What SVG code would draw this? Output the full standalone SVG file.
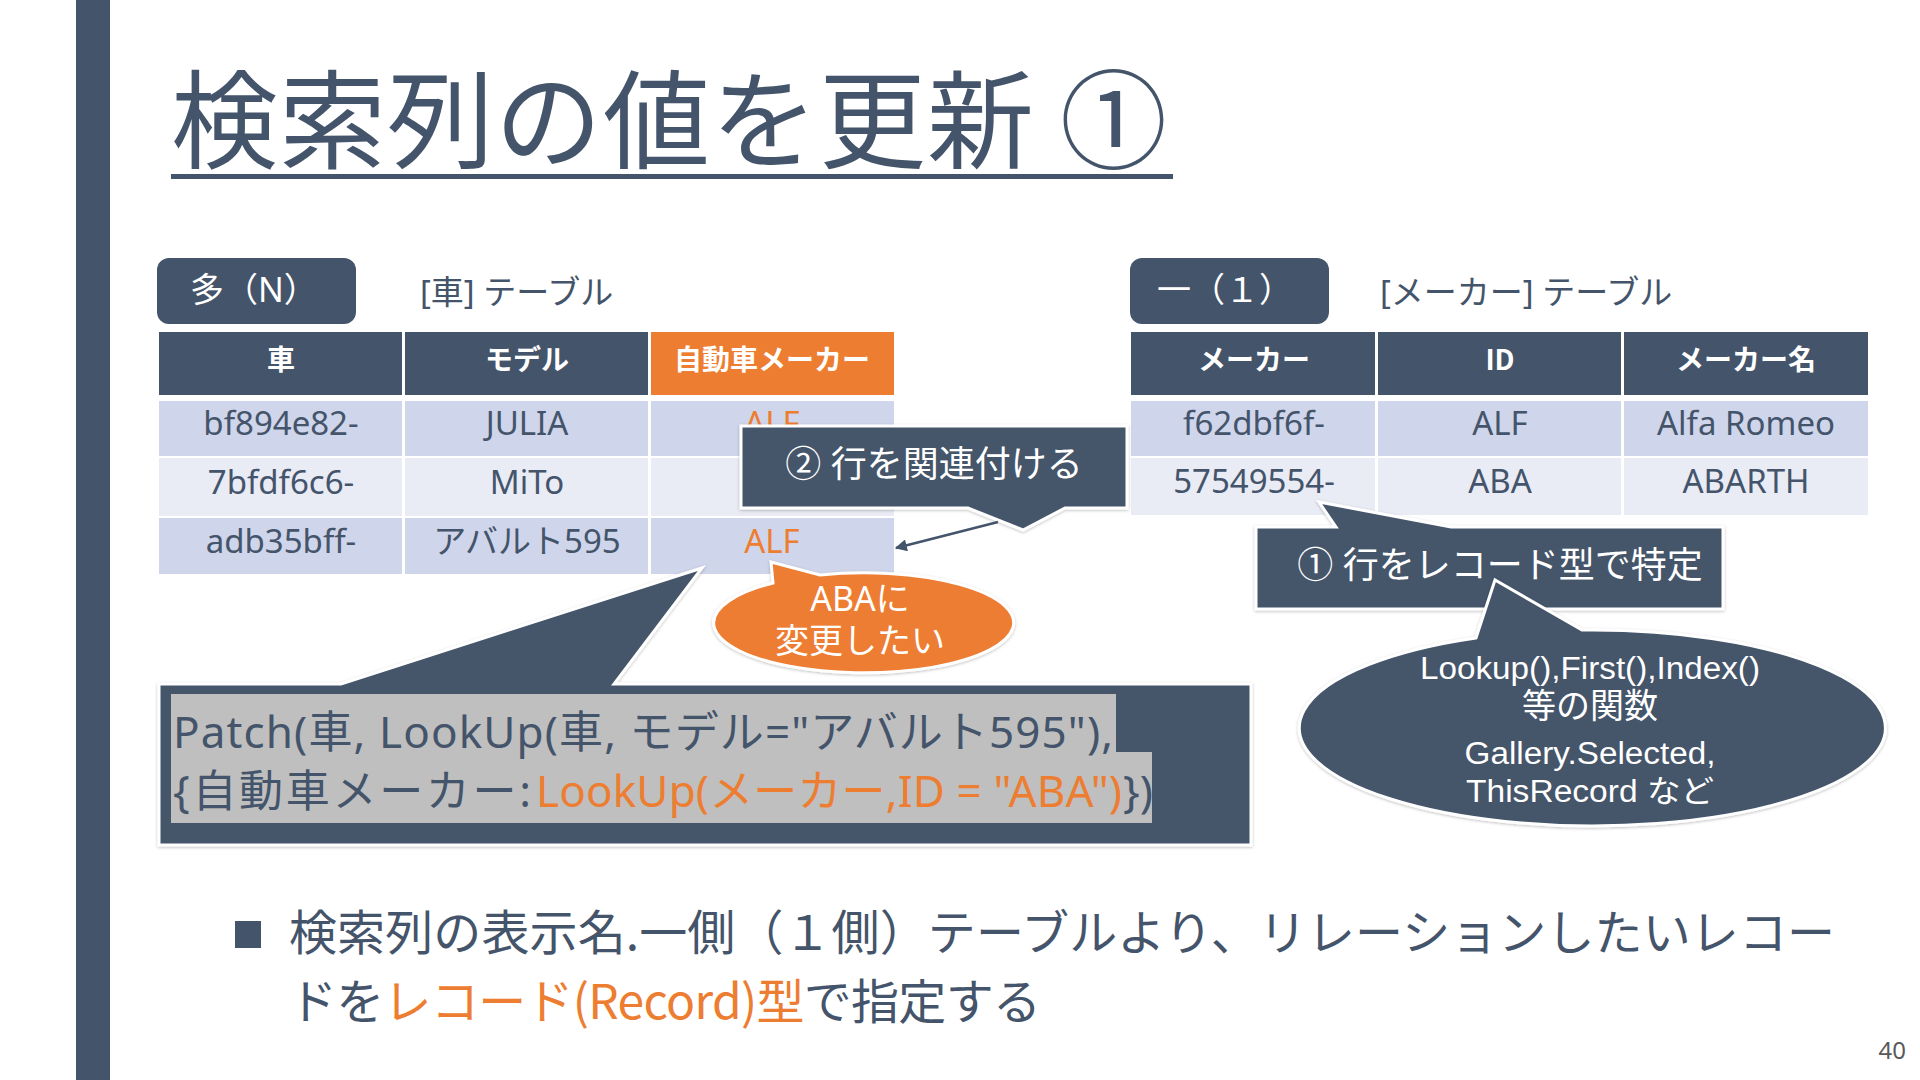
<svg xmlns="http://www.w3.org/2000/svg" width="1920" height="1080" viewBox="0 0 1920 1080">
<defs>
<style>
.jp{font-family:"Noto Sans CJK JP",sans-serif}
.la{font-family:"Noto Sans","Noto Sans CJK JP",sans-serif}
.dk{fill:#44546A}
.or{fill:#ED7D31}
.wt{fill:#FFFFFF}
.hd{fill:#44546A}
.hdo{fill:#ED7D31}
.r1{fill:#CFD5EA}
.r2{fill:#E9EBF5}
.th{font-family:"Noto Sans CJK JP",sans-serif;font-weight:700;font-size:28px;fill:#FFFFFF;text-anchor:middle}
.td{font-family:"Noto Sans","Noto Sans CJK JP",sans-serif;font-size:33px;fill:#44546A;text-anchor:middle}
.tdo{font-family:"Noto Sans","Noto Sans CJK JP",sans-serif;font-size:33px;fill:#ED7D31;text-anchor:middle}
.call{fill:#44546A;stroke:#FFFFFF;stroke-width:3;filter:url(#sh)}
.callo{fill:#ED7D31;stroke:#FFFFFF;stroke-width:3;filter:url(#sh)}
.ct{font-family:"Noto Sans","Noto Sans CJK JP",sans-serif;fill:#FFFFFF;text-anchor:middle}
.cl{font-family:"Liberation Sans","Noto Sans CJK JP",sans-serif;fill:#FFFFFF;text-anchor:middle}
.lbl{font-family:"Noto Sans","Noto Sans CJK JP",sans-serif;font-size:33px;fill:#44546A}
</style>
<filter id="sh" x="-5%" y="-10%" width="110%" height="125%">
<feDropShadow dx="0" dy="1" stdDeviation="1.5" flood-color="#000000" flood-opacity="0.25"/>
</filter>
<marker id="ah" viewBox="0 0 10 10" refX="9" refY="5" markerWidth="15" markerHeight="12" markerUnits="userSpaceOnUse" orient="auto">
<path d="M0,0 L10,5 L0,10 Z" fill="#44546A"/>
</marker>
</defs>

<rect x="0" y="0" width="1920" height="1080" fill="#FFFFFF"/>
<rect x="76" y="0" width="34" height="1080" class="dk"/>

<g id="title">
<text x="171" y="160" class="jp" font-size="107" fill="#44546A" textLength="996" lengthAdjust="spacing">検索列の値を更新 ①</text>
<rect x="171" y="174" width="1002" height="5" class="dk"/>
</g>

<g id="label-many">
<rect x="157" y="258" width="199" height="66" rx="12" class="dk"/>
<text x="190" y="302" class="la" font-size="34" fill="#FFFFFF">多（N）</text>
</g>
<text x="420" y="304" class="lbl">[車] テーブル</text>

<g id="label-one">
<rect x="1130" y="258" width="199" height="66" rx="12" class="dk"/>
<text x="1157" y="302" class="la" font-size="34" fill="#FFFFFF">一（１）</text>
</g>
<text x="1380" y="304" class="lbl">[メーカー] テーブル</text>

<g id="table-car">
<rect x="159" y="332" width="243" height="63" class="hd"/>
<rect x="405" y="332" width="243" height="63" class="hd"/>
<rect x="651" y="332" width="243" height="63" class="hdo"/>
<rect x="159" y="401" width="243" height="55" class="r1"/>
<rect x="405" y="401" width="243" height="55" class="r1"/>
<rect x="651" y="401" width="243" height="55" class="r1"/>
<rect x="159" y="458" width="243" height="58" class="r2"/>
<rect x="405" y="458" width="243" height="58" class="r2"/>
<rect x="651" y="458" width="243" height="58" class="r2"/>
<rect x="159" y="518" width="243" height="56" class="r1"/>
<rect x="405" y="518" width="243" height="56" class="r1"/>
<rect x="651" y="518" width="243" height="56" class="r1"/>
<text x="281" y="370" class="th">車</text>
<text x="527" y="370" class="th">モデル</text>
<text x="772" y="370" class="th">自動車メーカー</text>
<text x="281" y="435" class="td">bf894e82-</text>
<text x="527" y="435" class="td">JULIA</text>
<text x="772" y="435" class="tdo">ALF</text>
<text x="281" y="494" class="td">7bfdf6c6-</text>
<text x="527" y="494" class="td">MiTo</text>
<text x="281" y="553" class="td">adb35bff-</text>
<text x="527" y="553" class="td">アバルト595</text>
<text x="772" y="553" class="tdo">ALF</text>
</g>

<g id="table-maker">
<rect x="1131" y="332" width="244" height="63" class="hd"/>
<rect x="1378" y="332" width="243" height="63" class="hd"/>
<rect x="1624" y="332" width="244" height="63" class="hd"/>
<rect x="1131" y="401" width="244" height="55" class="r1"/>
<rect x="1378" y="401" width="243" height="55" class="r1"/>
<rect x="1624" y="401" width="244" height="55" class="r1"/>
<rect x="1131" y="458" width="244" height="57" class="r2"/>
<rect x="1378" y="458" width="243" height="57" class="r2"/>
<rect x="1624" y="458" width="244" height="57" class="r2"/>
<text x="1254" y="370" class="th">メーカー</text>
<text x="1500" y="370" class="th">ID</text>
<text x="1746" y="370" class="th">メーカー名</text>
<text x="1254" y="435" class="td">f62dbf6f-</text>
<text x="1500" y="435" class="td">ALF</text>
<text x="1746" y="435" class="td">Alfa Romeo</text>
<text x="1254" y="493" class="td">57549554-</text>
<text x="1500" y="493" class="td">ABA</text>
<text x="1746" y="493" class="td">ABARTH</text>
</g>

<g id="code-callout">
<path d="M159,684 H341 L702,568 L614,684 H1251 V845 H159 Z" class="call"/>
<rect x="171" y="694" width="945" height="58" fill="#BFBFBF"/>
<rect x="171" y="752" width="981" height="71" fill="#BFBFBF"/>
<text x="173" y="748" class="la" font-size="44" fill="#44546A" textLength="940" lengthAdjust="spacing">Patch(車, LookUp(車, モデル="アバルト595"),</text>
<text x="173" y="807" class="la" font-size="44" fill="#44546A" textLength="358" lengthAdjust="spacing">{自動車メーカー:</text>
<text x="536" y="807" class="la" font-size="44" fill="#ED7D31" textLength="586" lengthAdjust="spacing">LookUp(メーカー,ID = "ABA")</text>
<text x="1123" y="807" class="la" font-size="44" fill="#44546A">})</text>
</g>

<g id="change-callout">
<path d="M773,583 L771,562 L820,575 A150,50 0 1 1 773,583 Z" class="callo"/>
<text x="860" y="611" class="ct" font-size="34">ABAに</text>
<text x="860" y="653" class="ct" font-size="34">変更したい</text>
</g>

<g id="relate-callout">
<path d="M741,426 H1127 V508 H1065 L1023,530 L968,508 H741 Z" class="call"/>
<text x="934" y="477" class="ct" font-size="36">② 行を関連付ける</text>
</g>

<g id="connectors">
<line x1="998" y1="522" x2="896" y2="548" stroke="#44546A" stroke-width="2.5" marker-end="url(#ah)"/>
</g>

<g id="record-callout">
<path d="M1256,527 H1336 L1319,502 L1451,527 H1723 V609 H1256 Z" class="call"/>
<text x="1500" y="578" class="ct" font-size="36">① 行をレコード型で特定</text>
</g>

<g id="functions-callout">
<path d="M1476,638 L1495,580 L1582,630 A293,98 0 1 1 1476,638 Z" class="call"/>
<text x="1590" y="679" class="cl" font-size="31" textLength="340" lengthAdjust="spacingAndGlyphs">Lookup(),First(),Index()</text>
<text x="1590" y="718" class="cl" font-size="34">等の関数</text>
<text x="1590" y="764" class="cl" font-size="31" textLength="251" lengthAdjust="spacingAndGlyphs">Gallery.Selected,</text>
<text x="1590" y="802" class="cl" font-size="31" textLength="248" lengthAdjust="spacingAndGlyphs">ThisRecord など</text>
</g>

<g id="bullet">
<rect x="235" y="921" width="26" height="27" class="dk"/>
<text x="289" y="950" class="jp" font-size="48" fill="#44546A" textLength="1546" lengthAdjust="spacing">検索列の表示名.一側（１側）テーブルより、リレーションしたいレコー</text>
<text x="289" y="1019" class="jp" font-size="48" fill="#44546A" textLength="752" lengthAdjust="spacing">ドを<tspan fill="#ED7D31">レコード(Record)型</tspan>で指定する</text>
</g>

<text x="1906" y="1059" class="la" font-size="24" fill="#595959" text-anchor="end">40</text>
</svg>
